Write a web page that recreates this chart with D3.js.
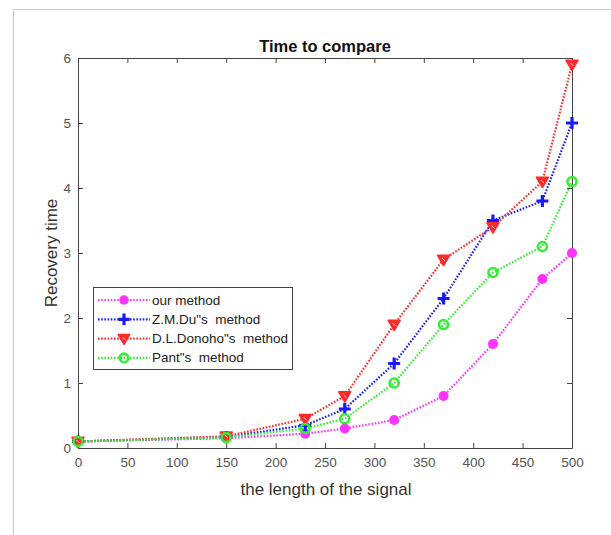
<!DOCTYPE html>
<html><head><meta charset="utf-8">
<script src="https://cdn.jsdelivr.net/npm/d3@7/dist/d3.min.js"></script>
<style>body{margin:0;background:#fff;} svg{display:block;font-family:"Liberation Sans",Arial,sans-serif;}</style>
</head><body>
<svg id="c" width="611" height="535"></svg>
<script>
const xs = [0, 150, 230, 270, 320, 370, 420, 470, 500];
const ourMethod = [0.1, 0.15, 0.22, 0.3, 0.43, 0.8, 1.6, 2.6, 3.0];
const duMethod = [0.1, 0.17, 0.35, 0.6, 1.3, 2.3, 3.5, 3.8, 5.0];
const donohoMethod = [0.1, 0.18, 0.45, 0.8, 1.9, 2.9, 3.4, 4.1, 5.9];
const pantMethod = [0.1, 0.16, 0.3, 0.45, 1.0, 1.9, 2.7, 3.1, 4.1];
const seriesNames = ["our method", "Z.M.Du\"s  method", "D.L.Donoho\"s  method", "Pant\"s  method"];
const xTicks = [0, 50, 100, 150, 200, 250, 300, 350, 400, 450, 500];
const yTicks = [0, 1, 2, 3, 4, 5, 6];

const colors = ["#ff33ff", "#1a1aff", "#ff2a2a", "#33ee33"];
const markers = ["circle", "plus", "tri", "ring"];
const allSeries = [ourMethod, duMethod, donohoMethod, pantMethod];

const svg = d3.select("#c");
// figure border
svg.append("line").attr("x1",13.5).attr("x2",611).attr("y1",9.5).attr("y2",9.5).attr("stroke","#c8c8c8");
svg.append("line").attr("x1",13.5).attr("x2",13.5).attr("y1",9.5).attr("y2",535).attr("stroke","#c8c8c8");

const L=78, R=572, T=58, B=448;
const x = d3.scaleLinear().domain([0,500]).range([L,R]);
const y = d3.scaleLinear().domain([0,6]).range([B,T]);

const axisCol = "#444";
const fmt = d3.format("d");
const gx = svg.append("g").attr("transform",`translate(0,${B})`).call(d3.axisBottom(x).tickValues(xTicks).tickFormat(fmt).tickSizeInner(-5).tickSizeOuter(0).tickPadding(9));
gx.select(".domain").attr("stroke",axisCol);
gx.selectAll("line").attr("stroke",axisCol);
gx.selectAll("text").attr("fill","#555").attr("font-size",13.5);
const gxt = svg.append("g").attr("transform",`translate(0,${T})`).call(d3.axisTop(x).tickValues(xTicks).tickSizeInner(-5).tickSizeOuter(0).tickFormat(""));
gxt.select(".domain").attr("stroke",axisCol);
gxt.selectAll("line").attr("stroke",axisCol);
const gy = svg.append("g").attr("transform",`translate(${L},0)`).call(d3.axisLeft(y).tickValues(yTicks).tickFormat(fmt).tickSizeInner(-5).tickSizeOuter(0).tickPadding(7));
gy.select(".domain").attr("stroke",axisCol);
gy.selectAll("line").attr("stroke",axisCol);
gy.selectAll("text").attr("fill","#555").attr("font-size",13.5);
const gyr = svg.append("g").attr("transform",`translate(${R},0)`).call(d3.axisRight(y).tickValues(yTicks).tickSizeInner(-5).tickSizeOuter(0).tickFormat(""));
gyr.select(".domain").attr("stroke",axisCol);
gyr.selectAll("line").attr("stroke",axisCol);

// title and labels
svg.append("text").attr("x",(L+R)/2).attr("y",52).attr("text-anchor","middle").attr("font-weight","bold").attr("font-size",16.5).attr("fill","#111").text("Time to compare");
svg.append("text").attr("x",(L+R)/2+1).attr("y",495).attr("text-anchor","middle").attr("font-size",17).attr("fill","#333").text("the length of the signal");
svg.append("text").attr("transform",`translate(57,${(T+B)/2}) rotate(-90)`).attr("text-anchor","middle").attr("font-size",17).attr("fill","#333").text("Recovery time");

function drawMarker(g, type, color, cx, cy, s) {
  s = s || 1;
  if (type==="circle") g.append("circle").attr("cx",cx).attr("cy",cy).attr("r",5*s).attr("fill",color);
  else if (type==="ring") g.append("circle").attr("cx",cx).attr("cy",cy).attr("r",4.5*s).attr("fill","none").attr("stroke",color).attr("stroke-width",2.6);
  else if (type==="plus") {
    g.append("path").attr("d",`M${cx-6*s},${cy}H${cx+6*s}M${cx},${cy-6*s}V${cy+6*s}`).attr("stroke",color).attr("stroke-width",3.2);
  } else if (type==="tri") {
    const h=6*s;
    g.append("path").attr("d",`M${cx-h},${cy-h*0.7}L${cx+h},${cy-h*0.7}L${cx},${cy+h}Z`).attr("fill",color).attr("stroke",color).attr("stroke-width",1.5).attr("stroke-linejoin","round");
    g.append("path").attr("d",`M${cx-1.5},${cy-1.5}L${cx+1.5},${cy+1.5}`).attr("stroke","#fff").attr("stroke-width",0.8);
  }
}

const line = d3.line().x((d,i)=>x(xs[i])).y(d=>y(d));
const plot = svg.append("g");
allSeries.forEach((vals,k)=>{
  plot.append("path").datum(vals).attr("d",line).attr("fill","none").attr("stroke",colors[k]).attr("stroke-width",2.2).attr("stroke-dasharray","1.6,1.6");
});
allSeries.forEach((vals,k)=>{
  vals.forEach((v,i)=>drawMarker(plot, markers[k], colors[k], x(xs[i]), y(v)));
});

// legend
const lg = svg.append("g");
lg.append("rect").attr("x",93.5).attr("y",287.5).attr("width",199).attr("height",82).attr("fill","#fff").attr("stroke","#444").attr("stroke-width",1);
seriesNames.forEach((n,k)=>{
  const yy = 300 + k*19.3;
  lg.append("line").attr("x1",98).attr("x2",150).attr("y1",yy).attr("y2",yy).attr("stroke",colors[k]).attr("stroke-width",2.2).attr("stroke-dasharray","1.6,1.6");
  drawMarker(lg, markers[k], colors[k], 124, yy, 0.95);
  lg.append("text").attr("x",152).attr("y",yy+4.5).attr("font-size",13.5).attr("fill","#222").attr("xml:space","preserve").style("white-space","pre").text(n);
});
</script>
</body></html>
